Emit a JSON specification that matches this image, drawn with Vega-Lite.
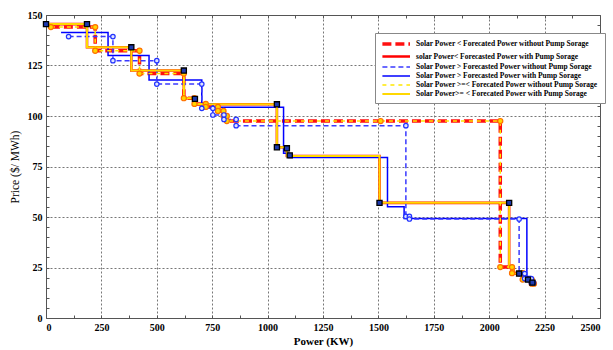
{
  "$schema": "https://vega.github.io/schema/vega-lite/v6.json",
  "width": 554,
  "height": 303,
  "autosize": "none",
  "padding": {"left": 46, "top": 15, "right": 13, "bottom": 32},
  "background": "white",
  "config": {
    "view": {"stroke": "#555", "strokeWidth": 1},
    "font": "Liberation Serif"
  },
  "datasets": {
    "lines": [
      {"s":"A","x":22,"y":144},{"s":"A","x":222,"y":144},{"s":"A","x":222,"y":132.3},{"s":"A","x":422,"y":132.3},{"s":"A","x":422,"y":121},{"s":"A","x":622,"y":121},{"s":"A","x":622,"y":108.8},{"s":"A","x":670,"y":108.8},{"s":"A","x":670,"y":106},{"s":"A","x":721,"y":106},{"s":"A","x":721,"y":104.5},{"s":"A","x":776,"y":104.5},{"s":"A","x":776,"y":102.5},{"s":"A","x":801,"y":102.5},{"s":"A","x":801,"y":100},{"s":"A","x":816,"y":100},{"s":"A","x":816,"y":97.5},{"s":"A","x":1510,"y":97.5},{"s":"A","x":2050,"y":97.5},{"s":"A","x":2050,"y":25.2},{"s":"A","x":2103,"y":25.2},{"s":"A","x":2103,"y":22.2},{"s":"A","x":2151,"y":22.2},{"s":"A","x":2151,"y":19},{"s":"A","x":2192,"y":19},{"s":"A","x":2192,"y":17},{"s":"A","x":2202,"y":17},
      {"s":"E","x":22,"y":144},{"s":"E","x":222,"y":144},{"s":"E","x":222,"y":132.3},{"s":"E","x":422,"y":132.3},{"s":"E","x":422,"y":121},{"s":"E","x":622,"y":121},{"s":"E","x":622,"y":108.8},{"s":"E","x":670,"y":108.8},{"s":"E","x":670,"y":106},{"s":"E","x":721,"y":106},{"s":"E","x":721,"y":104.5},{"s":"E","x":776,"y":104.5},{"s":"E","x":776,"y":102.5},{"s":"E","x":801,"y":102.5},{"s":"E","x":801,"y":100},{"s":"E","x":816,"y":100},{"s":"E","x":816,"y":97.5},{"s":"E","x":2050,"y":97.5},{"s":"E","x":2050,"y":25.2},{"s":"E","x":2103,"y":25.2},{"s":"E","x":2103,"y":22.2},{"s":"E","x":2151,"y":22.2},{"s":"E","x":2151,"y":19},{"s":"E","x":2192,"y":19},{"s":"E","x":2192,"y":17},{"s":"E","x":2202,"y":17},
      {"s":"F","x":0,"y":145.5},{"s":"F","x":185,"y":145.5},{"s":"F","x":185,"y":134},{"s":"F","x":385,"y":134},{"s":"F","x":385,"y":122.5},{"s":"F","x":622,"y":122.5},{"s":"F","x":622,"y":108.8},{"s":"F","x":672,"y":108.8},{"s":"F","x":672,"y":105.8},{"s":"F","x":1042,"y":105.8},{"s":"F","x":1042,"y":84.5},{"s":"F","x":1087,"y":84.5},{"s":"F","x":1087,"y":80.2},{"s":"F","x":1505,"y":80.2},{"s":"F","x":1505,"y":57},{"s":"F","x":2090,"y":57},{"s":"F","x":2090,"y":25},{"s":"F","x":2110,"y":25},{"s":"F","x":2110,"y":22},{"s":"F","x":2150,"y":22},{"s":"F","x":2150,"y":19.5},{"s":"F","x":2195,"y":19.5},{"s":"F","x":2195,"y":17.5},{"s":"F","x":2205,"y":17.5},
      {"s":"B","x":0,"y":145.5},{"s":"B","x":185,"y":145.5},{"s":"B","x":185,"y":134},{"s":"B","x":385,"y":134},{"s":"B","x":385,"y":122.5},{"s":"B","x":622,"y":122.5},{"s":"B","x":622,"y":108.8},{"s":"B","x":672,"y":108.8},{"s":"B","x":672,"y":105.8},{"s":"B","x":1042,"y":105.8},{"s":"B","x":1042,"y":84.5},{"s":"B","x":1087,"y":84.5},{"s":"B","x":1087,"y":80.2},{"s":"B","x":1505,"y":80.2},{"s":"B","x":1505,"y":57},{"s":"B","x":2090,"y":57},{"s":"B","x":2090,"y":25},{"s":"B","x":2110,"y":25},{"s":"B","x":2110,"y":22},{"s":"B","x":2150,"y":22},{"s":"B","x":2150,"y":19.5},{"s":"B","x":2195,"y":19.5},{"s":"B","x":2195,"y":17.5},{"s":"B","x":2205,"y":17.5},
      {"s":"D","x":68,"y":141.3},{"s":"D","x":280,"y":141.3},{"s":"D","x":280,"y":130},{"s":"D","x":465,"y":130},{"s":"D","x":465,"y":117.8},{"s":"D","x":703,"y":117.8},{"s":"D","x":703,"y":106},{"s":"D","x":753,"y":106},{"s":"D","x":753,"y":104.3},{"s":"D","x":1072,"y":104.3},{"s":"D","x":1072,"y":81.5},{"s":"D","x":1095,"y":81.5},{"s":"D","x":1095,"y":79.5},{"s":"D","x":1541,"y":79.5},{"s":"D","x":1541,"y":55.1},{"s":"D","x":1616,"y":55.1},{"s":"D","x":1616,"y":49.3},{"s":"D","x":2170,"y":49.3},{"s":"D","x":2170,"y":20.5},{"s":"D","x":2185,"y":20.5},{"s":"D","x":2185,"y":18.5},{"s":"D","x":2200,"y":18.5},
      {"s":"C","x":102,"y":139.3},{"s":"C","x":302,"y":139.3},{"s":"C","x":302,"y":127.4},{"s":"C","x":500,"y":127.4},{"s":"C","x":500,"y":115.8},{"s":"C","x":703,"y":115.8},{"s":"C","x":703,"y":103.8},{"s":"C","x":753,"y":103.8},{"s":"C","x":753,"y":100.5},{"s":"C","x":803,"y":100.5},{"s":"C","x":803,"y":98.3},{"s":"C","x":858,"y":98.3},{"s":"C","x":858,"y":95.2},{"s":"C","x":1624,"y":95.2},{"s":"C","x":1624,"y":50.3},{"s":"C","x":1640,"y":50.3},{"s":"C","x":1640,"y":49},{"s":"C","x":2135,"y":49},{"s":"C","x":2135,"y":22},{"s":"C","x":2160,"y":22},{"s":"C","x":2160,"y":19.5},{"s":"C","x":2190,"y":19.5},{"s":"C","x":2190,"y":17.5},{"s":"C","x":2200,"y":17.5}
    ],
    "squares": [
      {"x":0,"y":145.5},{"x":185,"y":145.5},{"x":385,"y":134},{"x":622,"y":122.5},{"x":672,"y":108.5},{"x":1042,"y":105.8},{"x":1042,"y":84.5},{"x":1087,"y":84},{"x":1100,"y":80.5},{"x":1505,"y":57},{"x":2090,"y":57},{"x":2135,"y":22},{"x":2175,"y":19},{"x":2195,"y":17.5}
    ]
  },
  "resolve": {"axis": {"x": "independent", "y": "independent"}},
  "layer": [
    {
      "encoding": {
        "x": {
          "field": "x", "type": "quantitative",
          "scale": {"domain": [0, 2500], "nice": false, "zero": false},
          "axis": {
            "orient": "bottom",
            "values": [0,125,250,375,500,625,750,875,1000,1125,1250,1375,1500,1625,1750,1875,2000,2125,2250,2375,2500],
            "labelExpr": "datum.value % 250 == 0 ? format(datum.value, 'd') : ''",
            "labelOverlap": false,
            "labelFont": "Liberation Serif", "labelFontWeight": "bold", "labelFontSize": 10, "labelColor": "#000",
            "labelPadding": 7,
            "tickSize": -3, "tickColor": "#555",
            "domain": false,
            "grid": true, "gridDash": [2, 2], "gridColor": "#777",
            "gridOpacity": {"condition": {"test": "datum.value % 250 == 0 && datum.value > 0 && datum.value < 2500", "value": 1}, "value": 0},
            "title": "Power (KW)", "titleFont": "Liberation Serif", "titleFontWeight": "bold", "titleFontSize": 11, "titleColor": "#000", "titlePadding": 3
          }
        },
        "y": {
          "field": "y", "type": "quantitative",
          "scale": {"domain": [0, 150], "nice": false, "zero": false},
          "axis": {
            "orient": "left",
            "values": [0,5,10,15,20,25,30,35,40,45,50,55,60,65,70,75,80,85,90,95,100,105,110,115,120,125,130,135,140,145,150],
            "labelExpr": "datum.value % 25 == 0 ? format(datum.value, 'd') : ''",
            "labelOverlap": false,
            "labelFont": "Liberation Serif", "labelFontWeight": "bold", "labelFontSize": 10, "labelColor": "#000",
            "labelPadding": 7,
            "tickSize": -3, "tickColor": "#555",
            "domain": false,
            "grid": true, "gridDash": [2, 2], "gridColor": "#777",
            "gridOpacity": {"condition": {"test": "datum.value % 25 == 0 && datum.value > 0 && datum.value < 150", "value": 1}, "value": 0},
            "title": "Price ($/ MWh)", "titleFont": "Liberation Serif", "titleFontWeight": "normal", "titleFontSize": 11.5, "titleColor": "#000", "titlePadding": 7
          }
        }
      },
      "layer": [
        {
          "data": {"name": "lines"},
          "encoding": {
            "color": {
              "field": "s", "type": "nominal",
              "scale": {"domain": ["A","B","C","D","E","F"], "range": ["#ff1010","#ff0000","#3a3aff","#0000ff","#ffe800","#ffd800"]},
              "legend": {
                "title": null, "orient": "none", "legendX": 329, "legendY": 18,
                "fillColor": "white", "strokeColor": "#888", "padding": 5,
                "labelFont": "Liberation Serif", "labelFontWeight": "bold", "labelFontSize": 7.5, "labelColor": "#000", "labelLimit": 0,
                "symbolType": "M-0.9,0H6", "symbolSize": 64, "labelOffset": 24, "rowPadding": -1,
                "labelExpr": "{'A':'Solar Power < Forecated Power  without Pump Sorage','B':'solar Power< Forecasted Power with Pump Sorage','C':'Solar Power > Forecasted Power  without Pump Sorage','D':'Solar Power > Forecasted Power  with Pump Sorage','E':'Solar Power >=< Forecated Power  without Pump Sorage','F':'Solar Power>= < Forecated Power  with Pump Sorage'}[datum.label]"
              }
            },
            "strokeDash": {
              "field": "s", "type": "nominal",
              "scale": {"domain": ["A","B","C","D","E","F"], "range": [[9,4],[1,0],[5,3],[1,0],[4,4],[1,0]]}
            },
            "strokeWidth": {
              "field": "s", "type": "nominal",
              "scale": {"type": "ordinal", "domain": ["A","B","C","D","E","F"], "range": [3.5, 2.6, 1.5, 1.5, 1.5, 2]}
            },
            "order": [
              {"field": "x", "type": "quantitative"},
              {"field": "y", "type": "quantitative", "sort": "descending"}
            ]
          },
          "layer": [
            {"transform": [{"filter": "datum.s == 'A'"}], "mark": {"type": "line", "strokeCap": "butt"}},
            {"transform": [{"filter": "datum.s == 'B'"}], "mark": {"type": "line", "strokeCap": "butt"}},
            {"transform": [{"filter": "datum.s == 'D'"}], "mark": {"type": "line", "strokeCap": "butt"}},
            {"transform": [{"filter": "datum.s == 'C'"}], "mark": {"type": "line", "strokeCap": "butt"}},
            {"transform": [{"filter": "datum.s == 'F'"}], "mark": {"type": "line", "strokeCap": "butt"}},
            {"transform": [{"filter": "datum.s == 'E'"}], "mark": {"type": "line", "strokeCap": "butt"}}
          ]
        },
        {
          "data": {"name": "lines"},
          "transform": [{"filter": "datum.s == 'A'"}],
          "mark": {"type": "point", "shape": "circle", "filled": true, "size": 26, "fill": "#ffd700", "stroke": "#ff7000", "strokeWidth": 1.2, "opacity": 1}
        },
        {
          "data": {"name": "lines"},
          "transform": [{"filter": "datum.s == 'C'"}],
          "mark": {"type": "point", "shape": "circle", "filled": true, "size": 20, "fill": "#dfe3ff", "stroke": "#2233ff", "strokeWidth": 1.2, "opacity": 1}
        },
        {
          "data": {"name": "squares"},
          "mark": {"type": "point", "shape": "square", "filled": true, "size": 26, "fill": "#1e3ab0", "stroke": "#000", "strokeWidth": 1.3, "opacity": 1}
        }
      ]
    },
    {
      "data": {"name": "squares"},
      "mark": {"type": "point", "opacity": 0},
      "encoding": {
        "x": {
          "field": "x", "type": "quantitative",
          "scale": {"domain": [0, 2500], "nice": false, "zero": false},
          "axis": {"orient": "top", "values": [0,125,250,375,500,625,750,875,1000,1125,1250,1375,1500,1625,1750,1875,2000,2125,2250,2375,2500], "labels": false, "domain": false, "grid": false, "tickSize": -3, "tickColor": "#555", "title": null}
        },
        "y": {
          "field": "y", "type": "quantitative",
          "scale": {"domain": [0, 150], "nice": false, "zero": false},
          "axis": {"orient": "right", "values": [0,5,10,15,20,25,30,35,40,45,50,55,60,65,70,75,80,85,90,95,100,105,110,115,120,125,130,135,140,145,150], "labels": false, "domain": false, "grid": false, "tickSize": -3, "tickColor": "#555", "title": null}
        }
      }
    }
  ]
}
